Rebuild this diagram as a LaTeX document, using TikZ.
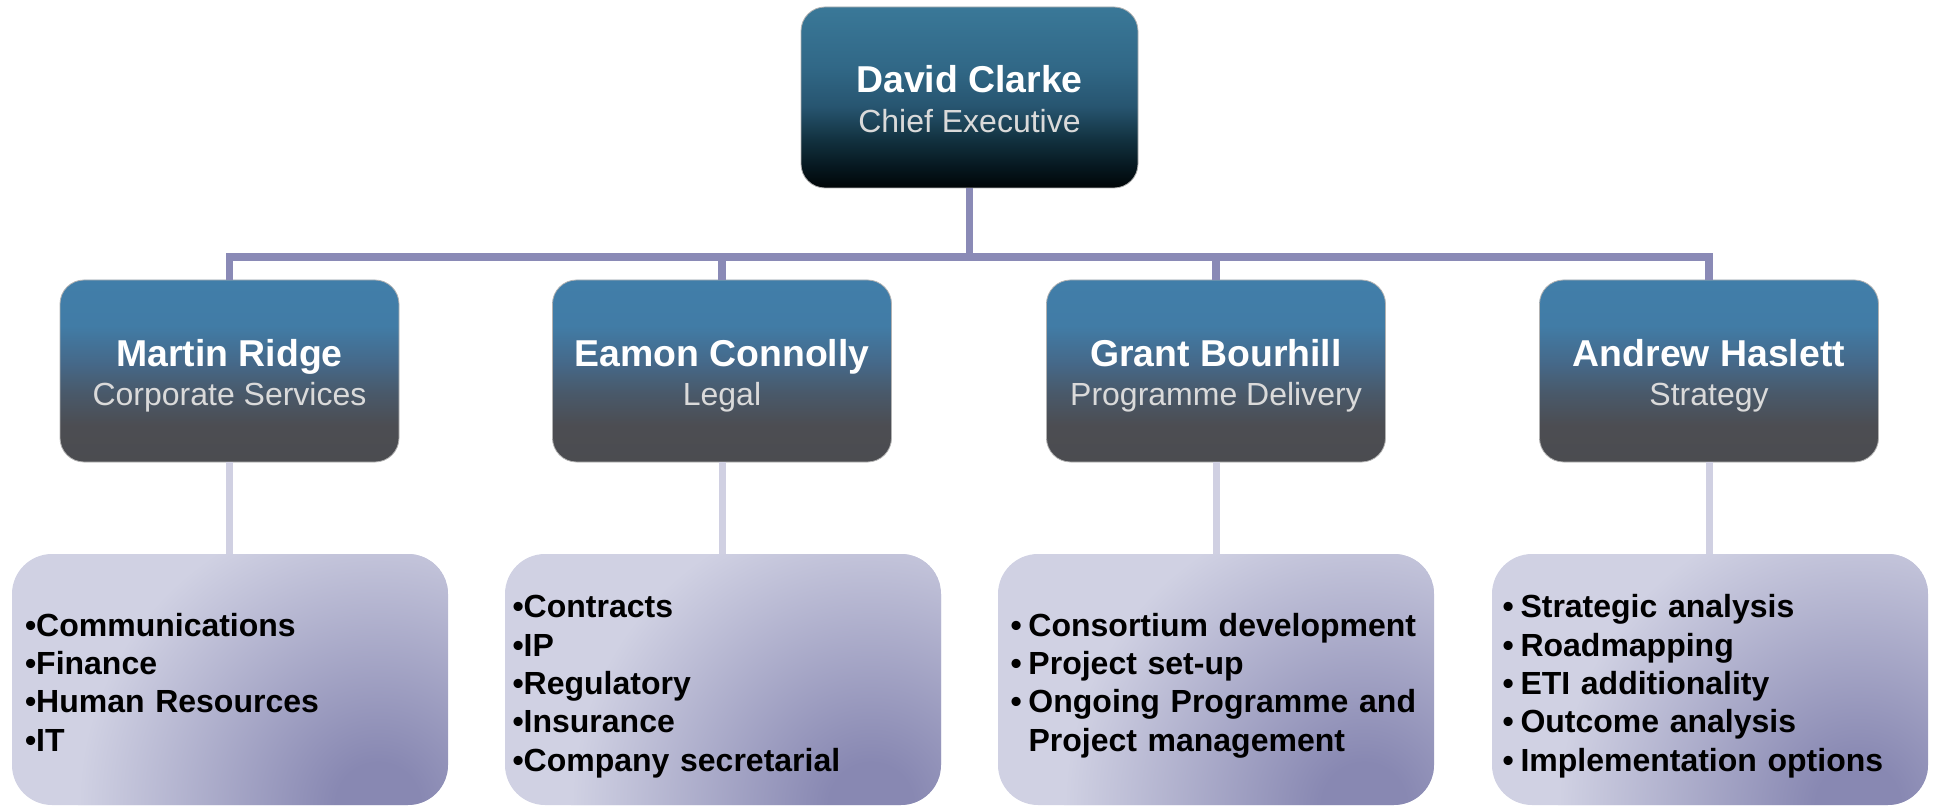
\documentclass[tikz,border=0pt]{standalone}
\usepackage{fontspec}
\setmainfont{Liberation Sans}
\usetikzlibrary{calc}

\definecolor{linkdark}{RGB}{138,138,182}
\definecolor{linklight}{RGB}{208,208,226}
\definecolor{lavlt}{RGB}{208,209,227}
\definecolor{subgrey}{RGB}{218,218,218}

% The path's bounding box spans 25bp..75bp of a vertical shading.
% chief executive box: steel blue fading to near black
\pgfdeclareverticalshading{ceoshade}{100bp}{%
  rgb(0bp)=(0.004,0.020,0.027);
  rgb(25bp)=(0.004,0.020,0.027);
  rgb(31bp)=(0.024,0.094,0.125);
  rgb(38.5bp)=(0.071,0.196,0.251);
  rgb(47.5bp)=(0.153,0.333,0.439);
  rgb(58.5bp)=(0.192,0.408,0.529);
  rgb(75bp)=(0.227,0.471,0.596);
  rgb(100bp)=(0.227,0.471,0.596)}

% director boxes: blue at the top, slate grey at the bottom
\pgfdeclareverticalshading{dirshade}{100bp}{%
  rgb(0bp)=(0.294,0.298,0.314);
  rgb(25bp)=(0.294,0.298,0.314);
  rgb(35bp)=(0.298,0.302,0.322);
  rgb(44bp)=(0.286,0.349,0.416);
  rgb(52.5bp)=(0.271,0.412,0.541);
  rgb(62.5bp)=(0.255,0.486,0.651);
  rgb(75bp)=(0.255,0.494,0.663);
  rgb(100bp)=(0.255,0.494,0.663)}

% remit boxes: pale lavender darkening towards the lower right
% (the circle's bounding box spans -25bp..25bp)
\pgfdeclareradialshading{lavrad}{\pgfpoint{0bp}{0bp}}{%
  rgb(0bp)=(0.533,0.533,0.698);
  rgb(3.5bp)=(0.533,0.533,0.698);
  rgb(25bp)=(0.816,0.820,0.890);
  rgb(50bp)=(0.816,0.820,0.890)}

\newcommand{\bul}{\makebox[18pt][l]{•}}
\newcommand{\nobul}{\hspace*{18pt}}

\tikzset{
  ceobox/.style={rounded corners=24pt, minimum width=337pt, minimum height=181pt,
    inner sep=0pt, shade, shading=ceoshade, draw=black!30, line width=0.8pt},
  dirbox/.style={rounded corners=24pt, minimum width=339pt, minimum height=182pt,
    inner sep=0pt, shade, shading=dirshade, draw=black!30, line width=0.8pt},
  nametext/.style={anchor=base, inner sep=0pt, text=white,
    font=\fontsize{37.4}{40}\selectfont\bfseries},
  roletext/.style={anchor=base, inner sep=0pt, text=subgrey,
    font=\fontsize{32}{40}\selectfont},
  remitbox/.style={rounded corners=40pt, minimum width=436pt, minimum height=251pt,
    inner sep=0pt,
    path picture={
      \fill[lavlt] (path picture bounding box.south west) rectangle (path picture bounding box.north east);
      \shade[shading=lavrad] ($(path picture bounding box.south east)+(-70pt,0pt)$) circle (300pt);
    }},
  remittext/.style={anchor=base west, inner sep=0pt, text width=410pt, align=left,
    text=black, font=\fontsize{32}{38.3}\selectfont\bfseries},
  toplink/.style={draw=linkdark, line width=7.5pt, line join=miter},
  sublink/.style={draw=linklight, line width=7pt},
}

% #1 node name, #2 box style, #3 centre, #4 person, #5 role
\newcommand{\staff}[5]{%
  \node[#2] (#1) at (#3) {};
  \node[nametext] (#1-name) at ($(#1.center)+(0,4.5)$) {#4};
  \node[roletext] (#1-role) at ($(#1.center)+(0,-35)$) {#5};}

\begin{document}
\begin{tikzpicture}[x=1pt,y=1pt]
  \useasboundingbox (0,0) rectangle (1933,807);

  % chief executive and directors
  \staff{ceo}{ceobox}{969.5,709.5}{David Clarke}{Chief Executive}
  \staff{d1}{dirbox}{229.5,436}{Martin Ridge}{Corporate Services}
  \staff{d2}{dirbox}{722,436}{Eamon Connolly}{Legal}
  \staff{d3}{dirbox}{1216,436}{Grant Bourhill}{Programme Delivery}
  \staff{d4}{dirbox}{1709,436}{Andrew Haslett}{Strategy}

  % remit boxes and their lists
  \node[remitbox] (r1) at (230,127.5) {};
  \node[remitbox] (r2) at (723,127.5) {};
  \node[remitbox] (r3) at (1216,127.5) {};
  \node[remitbox] (r4) at (1710,127.5) {};

  \node[remittext] (r1-list) at ($(r1.north west)+(13,-82.5)$)
    {•Communications\\•Finance\\•Human Resources\\•IT};
  \node[remittext] (r2-list) at ($(r2.north west)+(7.5,-64)$)
    {•Contracts\\•IP\\•Regulatory\\•Insurance\\•Company secretarial};
  \node[remittext] (r3-list) at ($(r3.north west)+(12.5,-82.5)$)
    {\bul Consortium development\\\bul Project set-up\\\bul Ongoing Programme and\\\nobul Project management};
  \node[remittext] (r4-list) at ($(r4.north west)+(10.5,-64)$)
    {\bul Strategic analysis\\\bul Roadmapping\\\bul ETI additionality\\\bul Outcome analysis\\\bul Implementation options};

  % reporting lines
  \coordinate (bar) at (969.5,550);
  \draw[toplink] (ceo.south) -- (ceo.south |- bar);
  \draw[toplink] (d1.north) -- (d1.north |- bar) -- (d4.north |- bar) -- (d4.north);
  \draw[toplink] (d2.north) -- (d2.north |- bar);
  \draw[toplink] (d3.north) -- (d3.north |- bar);

  \draw[sublink] (d1.south) -- (d1.south |- r1.north);
  \draw[sublink] (d2.south) -- (d2.south |- r2.north);
  \draw[sublink] (d3.south) -- (d3.south |- r3.north);
  \draw[sublink] (d4.south) -- (d4.south |- r4.north);
\end{tikzpicture}
\end{document}
